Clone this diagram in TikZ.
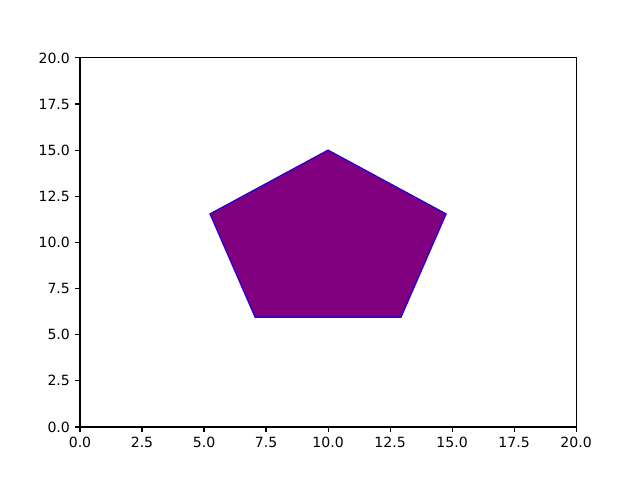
\documentclass[tikz,border=0pt]{standalone}
\usepackage{fontspec}
\setmainfont{DejaVu Sans}
\usetikzlibrary{calc}
\definecolor{pentpurple}{RGB}{128, 0, 128}
\definecolor{pentedge}{RGB}{48, 0, 200}
\tikzset{every node/.style={font=\fontsize{10}{12}\selectfont}, every path/.style={line join=miter}, axisline/.style={line width=0.8pt}, ticklabel/.style={inner sep=0pt}}

\begin{document}
\begin{tikzpicture}[x=0.025cm, y=0.025cm]
    \useasboundingbox (0,0) rectangle (640,480);
    \begin{scope}[shift={(80,53)}, x=0.62cm, y=0.46125cm]
        % pentagon
        \foreach \k in {0,...,4} {
            \coordinate (p\k) at ($(10,10)+(90+72*\k:5)$);
        }
        \filldraw [fill=pentpurple, draw=pentedge, line width=1pt] (p0) -- (p1) -- (p2) -- (p3) -- (p4) -- cycle;
        % axes frame
        \draw [axisline] (0,0) rectangle (20,20);
        \foreach \v/\t [count=\i] in {0/0.0, 2.5/2.5, 5/5.0, 7.5/7.5, 10/10.0, 12.5/12.5, 15/15.0, 17.5/17.5, 20/20.0} {
            \draw [axisline] (\v,0) -- ++(0,-3.5pt) coordinate (xt\i);
            \node [ticklabel, anchor=north, yshift=-3.5pt] (xl\i) at (xt\i) {\t};
            \draw [axisline] (0,\v) -- ++(-3.5pt,0) coordinate (yt\i);
            \node [ticklabel, anchor=east, xshift=-3.5pt] (yl\i) at (yt\i) {\t};
        }
    \end{scope}
\end{tikzpicture}
\end{document}
